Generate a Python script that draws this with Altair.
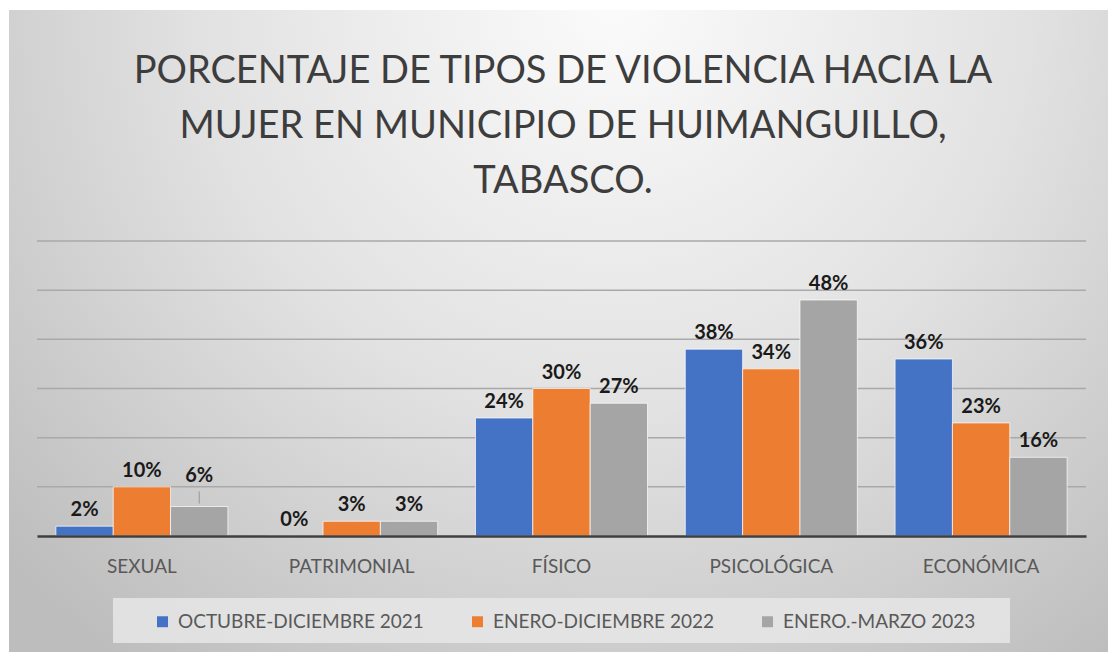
import altair as alt
import pandas as pd

categories = ["SEXUAL", "PATRIMONIAL", "FÍSICO", "PSICOLÓGICA", "ECONÓMICA"]
series_names = ["OCTUBRE-DICIEMBRE 2021", "ENERO-DICIEMBRE 2022", "ENERO.-MARZO 2023"]
oct_dic_2021 = [0.02, 0.00, 0.24, 0.38, 0.36]
ene_dic_2022 = [0.10, 0.03, 0.30, 0.34, 0.23]
ene_mar_2023 = [0.06, 0.03, 0.27, 0.48, 0.16]
series_colors = ["#4472C4", "#ED7D31", "#A5A5A5"]
grid_values = [0.1, 0.2, 0.3, 0.4, 0.5, 0.6]
title_lines = ["PORCENTAJE DE TIPOS DE VIOLENCIA HACIA LA",
               "MUJER EN MUNICIPIO DE HUIMANGUILLO,",
               "TABASCO."]

rows = []
for s, vals in zip(series_names, [oct_dic_2021, ene_dic_2022, ene_mar_2023]):
    for c, v in zip(categories, vals):
        rows.append({"tipo": c, "serie": s, "valor": v})
df = pd.DataFrame(rows)

W, H = 1049, 295
PAD = {"left": 37, "top": 241, "right": 22, "bottom": 116}

x_enc = alt.X("tipo:N", sort=categories,
              scale=alt.Scale(paddingInner=0.18, paddingOuter=0.09),
              axis=alt.Axis(title=None, labelAngle=0, ticks=False, domain=True,
                            domainColor="#3f3f3f", domainWidth=2.5,
                            labelFont="Lato", labelFontSize=19, labelColor="#595959",
                            labelPadding=21, zindex=1))
y_scale = alt.Scale(domain=[0, 0.6], nice=False)
one = alt.Data(values=[{}])

bg = alt.Chart(one).mark_rect(
    color=alt.Gradient(
        gradient="radial",
        stops=[alt.GradientStop(color="#fbfbfb", offset=0),
               alt.GradientStop(color="#e2e2e2", offset=0.5),
               alt.GradientStop(color="#bdbdbd", offset=1)],
        x1=0.55, y1=0.2, r1=0, x2=0.55, y2=0.2, r2=0.75)
).encode(x=alt.value(-PAD["left"] + 9), x2=alt.value(W + PAD["right"]),
         y=alt.value(-PAD["top"] + 10), y2=alt.value(H + PAD["bottom"]))

legend_box = alt.Chart(one).mark_rect(color="#e6e6e6", opacity=0.85).encode(
    x=alt.value(113 - PAD["left"]), x2=alt.value(1010 - PAD["left"]),
    y=alt.value(598 - PAD["top"]), y2=alt.value(643 - PAD["top"]))

title = alt.Chart(one).mark_text(
    text=title_lines, font="Lato", fontSize=38, fontWeight="normal", color="#3d3d3d",
    lineHeight=55, align="center", baseline="middle"
).encode(x=alt.value(563 - PAD["left"]), y=alt.value(72 - PAD["top"]))

grid = alt.Chart(pd.DataFrame({"g": grid_values})).mark_rule(
    color="#a9a9a9", strokeWidth=1.5
).encode(y=alt.Y("g:Q", scale=y_scale, axis=None))

base = alt.Chart(df).encode(
    x=x_enc,
    xOffset=alt.XOffset("serie:N", sort=series_names, scale=alt.Scale(paddingInner=0, paddingOuter=0)),
    y=alt.Y("valor:Q", scale=y_scale, axis=None),
)

bars = base.mark_bar(stroke="#ffffff", strokeWidth=1, strokeOpacity=0.7).encode(
    color=alt.Color("serie:N", sort=series_names,
                    scale=alt.Scale(domain=series_names, range=series_colors),
                    legend=alt.Legend(title=None, orient="none", direction="horizontal",
                                      legendX=153 - PAD["left"], legendY=612 - PAD["top"],
                                      padding=0,
                                      symbolType="square", symbolSize=120,
                                      symbolStrokeWidth=0, symbolOffset=0,
                                      labelFont="Lato", labelFontSize=19, labelOffset=6,
                                      labelColor="#595959", columnPadding=44,
                                      labelLimit=400))
)

is_moved = (alt.datum.tipo == "SEXUAL") & (alt.datum.serie == "ENERO.-MARZO 2023")

labels = base.mark_text(dy=-16, font="Lato", fontSize=20, fontWeight="bold",
                        color="#1a1a1a").encode(
    text=alt.Text("valor:Q", format=".0%")).transform_filter(~is_moved)

moved_label = base.mark_text(dy=-31, font="Lato", fontSize=20, fontWeight="bold",
                             color="#1a1a1a").encode(
    text=alt.Text("valor:Q", format=".0%")).transform_filter(is_moved)

leader = base.mark_tick(orient="vertical", size=12, thickness=1, yOffset=-9,
                        color="#7f7f7f").transform_filter(is_moved)

chart = alt.layer(bg, legend_box, title, grid, bars, labels, moved_label, leader).properties(
    width=W, height=H,
    padding=PAD,
    autosize=alt.AutoSizeParams(type="none"),
    background="#ffffff",
).configure_view(stroke=None)

chart.save("out.html", embed_options={"renderer": "svg", "actions": False})
